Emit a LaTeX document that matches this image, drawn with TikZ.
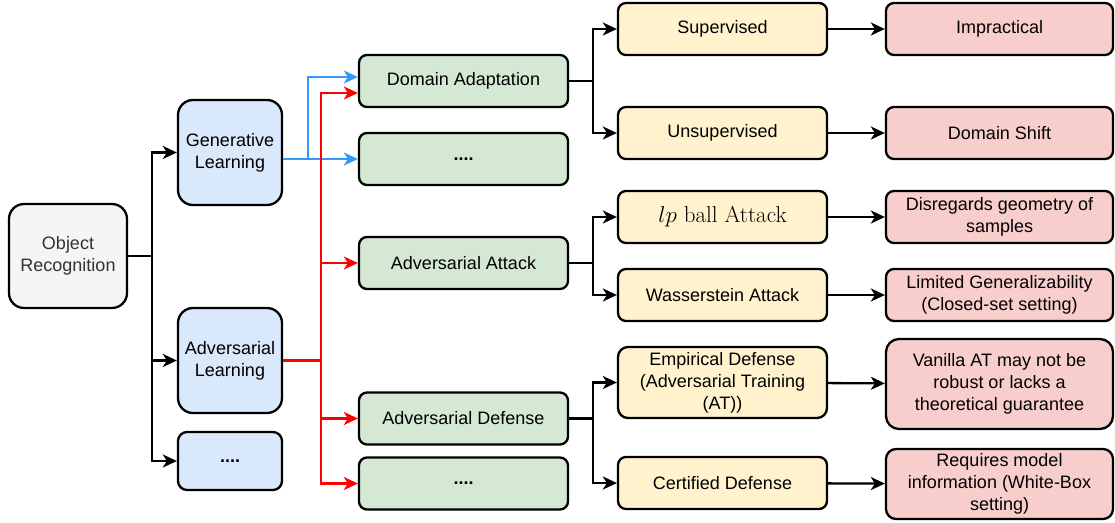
\RequirePackage{fix-cm}
\documentclass[tikz,border=0pt]{standalone}
\usepackage{fontspec}
\setmainfont{Liberation Sans}
\newfontfamily\lmroman{Latin Modern Roman}
\usepackage{tikz}
\usetikzlibrary{arrows.meta,calc}
\definecolor{grayf}{HTML}{F5F5F5}
\definecolor{grayt}{HTML}{333333}
\definecolor{bluef}{HTML}{DAE8FC}
\definecolor{greenf}{HTML}{D5E8D4}
\definecolor{yellowf}{HTML}{FFF2CC}
\definecolor{redf}{HTML}{F8CECC}
\definecolor{bluel}{HTML}{3399FF}

\begin{document}
\begin{tikzpicture}[x=1pt,y=-1pt,font=\fontsize{18}{22}\selectfont,
 >={Stealth[length=14pt,width=13pt,inset=4pt]},
 nb/.style={draw,line width=2.3pt,rounded corners=8pt,align=center,inner sep=0pt},
 ob/.style={nb,fill=grayf,text=grayt,minimum width=118pt,minimum height=104pt,rounded corners=15pt},
 bb/.style={nb,fill=bluef,minimum width=104pt,minimum height=105pt,rounded corners=15pt},
 gb/.style={nb,fill=greenf,minimum width=209pt,minimum height=52pt},
 yb/.style={nb,fill=yellowf,minimum width=209pt,minimum height=52pt},
 rb/.style={nb,fill=redf,minimum width=227pt,minimum height=52pt},
 d/.style={->,line width=2.3pt},
 db/.style={d,draw=bluel},
 dr/.style={d,draw=red}]
\useasboundingbox (0,0) rectangle (1115,522);
% first levels
\node[ob] (or) at (68,256) {Object\\Recognition};
\node[bb] (gl) at (230,152.5) {Generative\\Learning};
\node[bb] (al) at (230,360.5) {Adversarial\\Learning};
\node[bb,minimum height=58pt,rounded corners=9pt] (b3) at (230,461) {\textbf{....}};
\node[gb] (da) at (463.5,81) {Domain Adaptation};
\node[gb] (g2) at (463.5,159) {\textbf{....}};
\node[gb] (aa) at (463.5,263) {Adversarial Attack};
\node[gb] (ad) at (463.5,418.5) {Adversarial Defense};
\node[gb] (g5) at (463.5,483.5) {\textbf{....}};
% methods
\node[yb] (sup) at (722.5,29) {Supervised};
\node[yb] (uns) at (722.5,133) {Unsupervised};
\node[yb] (lp) at (722.5,217) {\fontsize{23}{26}\selectfont\lmroman $lp$ ball Attack};
\node[yb] (was) at (722.5,295) {Wasserstein Attack};
\node[yb,minimum height=71pt,rounded corners=10pt] (emp) at (722.5,382.5) {Empirical Defense\\(Adversarial Training\\(AT))};
\node[yb] (cert) at (722.5,483) {Certified Defense};
% limitations
\node[rb] (imp) at (999.5,29) {Impractical};
\node[rb] (ds) at (999.5,133) {Domain Shift};
\node[rb] (dis) at (999.5,217) {Disregards geometry of\\samples};
\node[rb] (lim) at (999.5,295) {Limited Generalizability\\(Closed-set setting)};
\node[rb,minimum height=90pt,rounded corners=13pt] (van) at (999.5,384) {Vanilla AT may not be\\robust or lacks a\\theoretical guarantee};
\node[rb,minimum height=70pt,rounded corners=10pt] (req) at (999.5,484) {Requires model\\information (White-Box\\setting)};
% junctions
\coordinate (j0) at (152,256);
\coordinate (bj) at (308,159);
\coordinate (rj) at (321,360.5);
\coordinate (j1) at (593,81);
\coordinate (j2) at (593,263);
\coordinate (j3) at (593,418.5);
% connectors
\draw[line width=2.3pt] (or.east) -- (j0);
\foreach \n in {gl,al,b3} \draw[d] (j0) |- (\n.west);
\draw[db] (gl.east |- g2) -- (g2.west);
\draw[db] (bj) |- ($(da.west)+(0,-4)$);
\draw[line width=2.3pt,red] (al.east) -- (rj);
\draw[dr] (rj) |- ($(da.west)+(0,12)$);
\foreach \n in {aa,ad,g5} \draw[dr] (rj) |- (\n.west);
\draw[line width=2.3pt] (da.east) -- (j1) (aa.east) -- (j2) (ad.east) -- (j3);
\draw[d] (j1) |- (sup.west);
\draw[d] (j1) |- (uns.west);
\draw[d] (j2) |- (lp.west);
\draw[d] (j2) |- (was.west);
\draw[d] (j3) |- (emp.west);
\draw[d] (j3) |- (cert.west);
\foreach \a/\b in {sup/imp,uns/ds,lp/dis,was/lim,emp/van,cert/req} \draw[d] (\a) -- (\b);
\end{tikzpicture}
\end{document}
